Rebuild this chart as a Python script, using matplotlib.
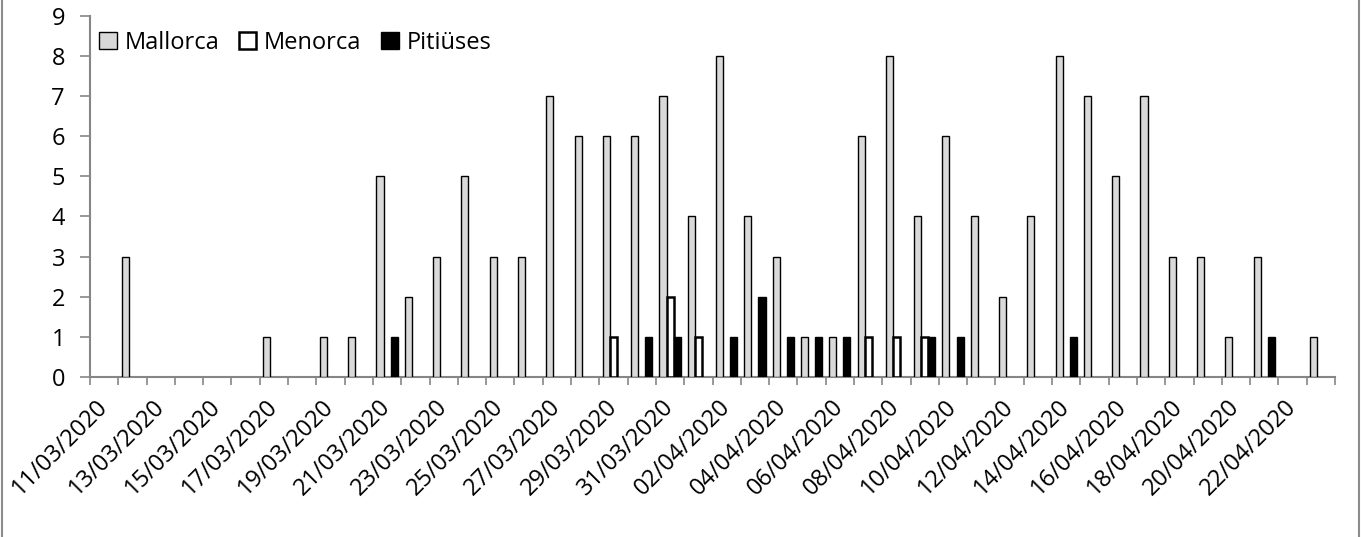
import matplotlib
matplotlib.use("Agg")
import matplotlib.pyplot as plt
from matplotlib.patches import Patch
from matplotlib.lines import Line2D
import numpy as np

plt.rcParams['font.family'] = ['Open Sans', 'DejaVu Sans']

dates = ["11/03/2020", "12/03/2020", "13/03/2020", "14/03/2020", "15/03/2020",
         "16/03/2020", "17/03/2020", "18/03/2020", "19/03/2020", "20/03/2020",
         "21/03/2020", "22/03/2020", "23/03/2020", "24/03/2020", "25/03/2020",
         "26/03/2020", "27/03/2020", "28/03/2020", "29/03/2020", "30/03/2020",
         "31/03/2020", "01/04/2020", "02/04/2020", "03/04/2020", "04/04/2020",
         "05/04/2020", "06/04/2020", "07/04/2020", "08/04/2020", "09/04/2020",
         "10/04/2020", "11/04/2020", "12/04/2020", "13/04/2020", "14/04/2020",
         "15/04/2020", "16/04/2020", "17/04/2020", "18/04/2020", "19/04/2020",
         "20/04/2020", "21/04/2020", "22/04/2020", "23/04/2020"]

mallorca = [0, 3, 0, 0, 0, 0, 1, 0, 1, 1,
            5, 2, 3, 5, 3, 3, 7, 6, 6, 6,
            7, 4, 8, 4, 3, 1, 1, 6, 8, 4,
            6, 4, 2, 4, 8, 7, 5, 7, 3, 3,
            1, 3, 0, 1]
menorca = [0, 0, 0, 0, 0, 0, 0, 0, 0, 0,
           0, 0, 0, 0, 0, 0, 0, 0, 1, 0,
           2, 1, 0, 0, 0, 0, 0, 1, 1, 1,
           0, 0, 0, 0, 0, 0, 0, 0, 0, 0,
           0, 0, 0, 0]
pitiuses = [0, 0, 0, 0, 0, 0, 0, 0, 0, 0,
            1, 0, 0, 0, 0, 0, 0, 0, 0, 1,
            1, 0, 1, 2, 1, 1, 1, 0, 0, 1,
            1, 0, 0, 0, 1, 0, 0, 0, 0, 0,
            0, 1, 0, 0]
series_names = ["Mallorca", "Menorca", "Pitiüses"]

W, H = 1361, 537
fig = plt.figure(figsize=(W / 100, H / 100), dpi=100)
fig.patch.set_facecolor('white')

left, right, top, bottom = 90, 1335, 15.7, 377
ax = fig.add_axes([left / W, 1 - bottom / H, (right - left) / W, (bottom - top) / H])

x = np.arange(len(dates))
bw = 0.25


def draw(vals, offset, **kw):
    v = np.asarray(vals, dtype=float)
    m = v > 0
    ax.bar(x[m] + offset, v[m], width=bw, zorder=3, **kw)


draw(mallorca, -bw, color='#d9d9d9', edgecolor='black', linewidth=1.0)
draw(menorca, 0.0, color='white', edgecolor='black', linewidth=1.8)
draw(pitiuses, bw, color='black', edgecolor='black', linewidth=1.0)

ax.set_xlim(-0.5, len(dates) - 0.5)
ax.set_ylim(0, 9)

gray = '#868686'
for s in ['top', 'right']:
    ax.spines[s].set_visible(False)
for s in ['left', 'bottom']:
    ax.spines[s].set_color(gray)
    ax.spines[s].set_linewidth(1.5)

FS = 17
ax.set_yticks(range(0, 10))
ax.tick_params(axis='y', length=7, width=1.2, color=gray, pad=11, labelsize=FS, labelcolor='black')

ax.set_xticks(np.arange(-0.5, len(dates), 1.0), minor=True)
ax.set_xticks(x[::2])
ax.set_xticklabels(dates[::2], rotation=45, ha='right', va='center', rotation_mode='anchor')
ax.tick_params(axis='x', which='major', length=0, pad=19, labelsize=FS, labelcolor='black')
ax.tick_params(axis='x', which='minor', length=5.5, width=1.2, color=gray)

handles = [Patch(facecolor='#d9d9d9', edgecolor='black', linewidth=1.0),
           Patch(facecolor='white', edgecolor='black', linewidth=1.8),
           Patch(facecolor='black', edgecolor='black', linewidth=1.0)]
leg = fig.legend(handles, series_names, loc='center left',
                 bbox_to_anchor=(99 / W, 1 - 43 / H), ncol=3, frameon=False,
                 fontsize=FS, handlelength=0.75, handleheight=0.75,
                 handletextpad=0.33, columnspacing=0.82, borderpad=0, borderaxespad=0)

fig.add_artist(Line2D([1.5 / W, 1.5 / W], [0, 1], color='#8c8c8c', linewidth=1.5))
fig.add_artist(Line2D([1 - 2.5 / W, 1 - 2.5 / W], [0, 1], color='#8c8c8c', linewidth=1.5))

fig.savefig('out.png', dpi=100, facecolor='white')
